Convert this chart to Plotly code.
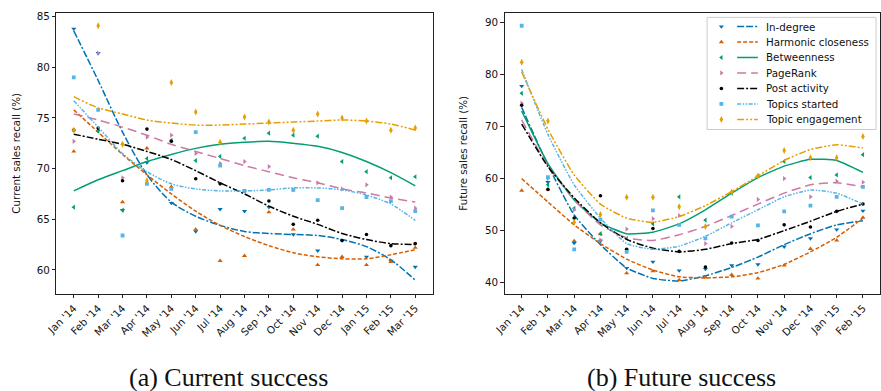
import plotly.graph_objects as go

# ---------------- data ----------------
months_a = ["Jan '14", "Feb '14", "Mar '14", "Apr '14", "May '14", "Jun '14", "Jul '14",
            "Aug '14", "Sep '14", "Oct '14", "Nov '14", "Dec '14", "Jan '15", "Feb '15", "Mar '15"]
months_b = months_a[:14]

series_names = ["In-degree", "Harmonic closeness", "Betweenness", "PageRank",
                "Post activity", "Topics started", "Topic engagement"]

# (a) Current success: observed recall per month
cur_indegree = [83.8, 81.4, 65.9, 70.6, 66.6, 63.8, 66.0, 65.8, 66.2, 63.5, 61.9, 62.9, 61.3, 60.9, 60.3]
cur_harmonic = [71.7, 73.8, 66.7, 72.0, 68.2, 64.0, 60.9, 61.4, 65.7, 64.0, 60.5, 61.3, 60.5, 60.8, 62.2]
cur_between = [66.2, 73.7, 65.9, 71.0, 72.8, 70.8, 71.2, 73.0, 73.5, 73.3, 73.2, 70.7, 69.7, 69.1, 69.2]
cur_pagerank = [72.7, 81.4, 69.1, 73.1, 73.3, 71.5, 70.5, 70.7, 70.2, 67.9, 68.6, 68.0, 68.4, 67.2, 66.1]
cur_post = [73.8, 74.0, 68.8, 73.9, 72.7, 69.0, 68.5, 67.8, 66.8, 64.5, 64.9, 62.9, 63.5, 62.4, 62.6]
cur_topics = [79.0, 75.8, 63.4, 68.5, 68.0, 73.6, 70.3, 67.8, 67.9, 67.9, 66.9, 66.1, 67.2, 66.8, 65.8]
cur_engage = [73.8, 84.1, 72.4, 68.8, 78.5, 75.6, 72.6, 75.1, 74.6, 73.8, 75.4, 75.0, 74.7, 73.8, 74.0]

# (a) trend curves read per month
cur_indegree_fit = [83.6, 78.7, 73.6, 69.4, 66.7, 65.3, 64.4, 63.8, 63.6, 63.5, 63.4, 63.0, 62.3, 61.0, 59.0]
cur_harmonic_fit = [75.8, 73.6, 71.4, 69.4, 67.5, 65.8, 64.4, 63.3, 62.4, 61.7, 61.3, 61.1, 61.1, 61.5, 62.0]
cur_between_fit = [67.8, 68.9, 69.8, 70.7, 71.4, 72.0, 72.4, 72.6, 72.7, 72.5, 72.2, 71.6, 70.7, 69.6, 68.3]
cur_pagerank_fit = [75.4, 74.8, 74.1, 73.3, 72.4, 71.7, 71.0, 70.3, 69.7, 69.1, 68.6, 68.0, 67.6, 67.1, 66.7]
cur_post_fit = [73.4, 72.9, 72.4, 71.7, 70.9, 69.8, 68.6, 67.5, 66.3, 65.3, 64.5, 63.6, 63.0, 62.6, 62.5]
cur_topics_fit = [76.7, 74.1, 71.5, 69.7, 68.5, 68.0, 67.8, 67.8, 67.9, 68.1, 68.1, 67.9, 67.4, 66.5, 64.9]
cur_engage_fit = [77.1, 76.0, 75.4, 74.8, 74.5, 74.3, 74.3, 74.4, 74.5, 74.6, 74.7, 74.8, 74.7, 74.4, 73.8]

# (b) Future success: observed recall per month
fut_indegree = [77.8, 59.3, 47.6, 48.0, 42.8, 44.0, 42.3, 42.6, 43.3, 43.5, 46.9, 48.5, 50.2, 53.8]
fut_harmonic = [57.7, 58.0, 48.0, 49.3, 41.8, 42.2, 40.5, 41.0, 41.5, 40.8, 43.3, 46.5, 48.1, 52.5]
fut_between = [76.4, 58.8, 54.3, 49.4, 48.5, 51.3, 56.5, 52.0, 57.2, 60.5, 63.3, 60.2, 60.7, 64.6]
fut_pagerank = [74.5, 60.0, 54.0, 48.2, 50.3, 52.3, 52.9, 47.5, 50.8, 56.0, 60.0, 56.5, 59.5, 59.3]
fut_post = [74.1, 57.9, 52.4, 56.7, 46.4, 50.4, 46.0, 43.0, 47.6, 48.1, 51.1, 50.7, 53.7, 55.1]
fut_topics = [89.4, 60.3, 46.4, 52.1, 45.9, 53.9, 51.1, 48.5, 52.7, 51.0, 53.7, 54.8, 56.5, 58.4]
fut_engage = [82.4, 71.1, 51.6, 53.1, 56.4, 56.4, 54.6, 50.8, 57.4, 60.5, 65.4, 64.0, 64.0, 68.1]

# (b) trend curves read per month
fut_indegree_fit = [73.7, 62.6, 53.0, 47.3, 42.8, 40.8, 40.3, 41.3, 42.9, 44.9, 47.3, 49.4, 51.1, 51.9]
fut_harmonic_fit = [60.0, 55.5, 51.1, 47.5, 44.5, 42.4, 41.1, 40.9, 41.1, 41.9, 43.5, 45.9, 48.7, 52.4]
fut_between_fit = [73.0, 62.9, 55.9, 51.5, 49.4, 49.7, 51.3, 54.0, 57.2, 60.2, 62.4, 63.7, 63.5, 61.2]
fut_pagerank_fit = [71.3, 62.4, 55.9, 51.1, 48.6, 48.1, 49.2, 50.8, 52.9, 55.1, 57.2, 58.8, 59.2, 58.4]
fut_post_fit = [70.5, 62.3, 56.3, 51.5, 48.3, 46.6, 45.9, 46.4, 47.5, 48.3, 50.0, 51.8, 53.7, 55.1]
fut_topics_fit = [81.0, 68.5, 58.8, 52.4, 47.5, 46.4, 47.0, 48.9, 51.5, 54.0, 56.5, 57.8, 57.2, 55.1]
fut_engage_fit = [80.5, 69.5, 60.7, 55.1, 52.4, 51.6, 52.7, 54.8, 57.5, 60.5, 63.5, 65.6, 66.5, 65.9]

yticks_a = [60, 65, 70, 75, 80, 85]
yticks_b = [40, 50, 60, 70, 80, 90]

# ---------------- styles ----------------
colors = ["#0072B2", "#D55E00", "#009E73", "#CC79A7", "#000000", "#56B4E9", "#E69F00"]
symbols = ["triangle-down", "triangle-up", "triangle-left", "triangle-right",
           "circle", "square", "diamond-tall"]
msizes = [4.5, 4.5, 4.5, 4.5, 3.6, 3.8, 5]
dashes = ["7px,2px,7px,2px,2px,2px", "4px,2px", "solid", "9px,5px",
          "7px,2px,2px,2px", "4px,1.5px,1.5px,1.5px,1.5px,1.5px", "7px,2px,2px,2px,2px,2px"]

cur_obs = [cur_indegree, cur_harmonic, cur_between, cur_pagerank, cur_post, cur_topics, cur_engage]
cur_fit = [cur_indegree_fit, cur_harmonic_fit, cur_between_fit, cur_pagerank_fit,
           cur_post_fit, cur_topics_fit, cur_engage_fit]
fut_obs = [fut_indegree, fut_harmonic, fut_between, fut_pagerank, fut_post, fut_topics, fut_engage]
fut_fit = [fut_indegree_fit, fut_harmonic_fit, fut_between_fit, fut_pagerank_fit,
           fut_post_fit, fut_topics_fit, fut_engage_fit]

W, H = 881, 391
FONT = "DejaVu Sans"
TXT = "#111111"

fig = go.Figure()

for i, name in enumerate(series_names):
    fig.add_trace(go.Scatter(x=months_a, y=cur_obs[i], mode="markers", xaxis="x", yaxis="y",
                             marker=dict(symbol=symbols[i], size=msizes[i], color=colors[i]),
                             showlegend=False, hoverinfo="skip"))
    fig.add_trace(go.Scatter(x=months_a, y=cur_fit[i], mode="lines", xaxis="x", yaxis="y",
                             line=dict(color=colors[i], width=1.5, dash=dashes[i], shape="spline", smoothing=0.8),
                             showlegend=False, name=name))
    fig.add_trace(go.Scatter(x=months_b, y=fut_obs[i], mode="markers", xaxis="x2", yaxis="y2",
                             marker=dict(symbol=symbols[i], size=msizes[i], color=colors[i]),
                             showlegend=False, hoverinfo="skip"))
    fig.add_trace(go.Scatter(x=months_b, y=fut_fit[i], mode="lines", xaxis="x2", yaxis="y2",
                             line=dict(color=colors[i], width=1.5, dash=dashes[i], shape="spline", smoothing=0.5),
                             showlegend=False, name=name))

# ---------------- hand-built legend (pixel overlay axis) ----------------
LX0, LX1, LY0, LY1 = 705.5, 877, 14.5, 127.5
fig.add_trace(go.Scatter(x=[LX0, LX1, LX1, LX0, LX0], y=[LY0, LY0, LY1, LY1, LY0],
                         mode="lines", fill="toself", fillcolor="rgba(255,255,255,0.85)",
                         line=dict(color="#cccccc", width=1), xaxis="x3", yaxis="y3",
                         showlegend=False, hoverinfo="skip"))
row0, rowstep = 23.7, 15.6
for i, name in enumerate(series_names):
    yy = row0 + rowstep * i
    fig.add_trace(go.Scatter(x=[736, 757], y=[yy, yy], mode="lines", xaxis="x3", yaxis="y3",
                             line=dict(color=colors[i], width=1.5, dash=dashes[i]),
                             showlegend=False, hoverinfo="skip"))
    fig.add_trace(go.Scatter(x=[720], y=[yy], mode="markers", xaxis="x3", yaxis="y3",
                             marker=dict(symbol=symbols[i], size=msizes[i], color=colors[i]),
                             showlegend=False, hoverinfo="skip"))
    fig.add_annotation(x=764, y=yy, xref="x3", yref="y3", text=name, showarrow=False,
                       xanchor="left", yanchor="middle", borderpad=0,
                       font=dict(family=FONT, size=10.3, color=TXT))

axis_common = dict(showline=True, mirror=True, linecolor="#222", linewidth=1,
                   ticks="outside", ticklen=3.5, tickwidth=0.8, tickcolor="#222",
                   showgrid=False, zeroline=False,
                   tickfont=dict(family=FONT, size=10.3, color=TXT))

fig.update_layout(
    width=W, height=H, margin=dict(l=0, r=0, t=0, b=0),
    paper_bgcolor="white", plot_bgcolor="rgba(0,0,0,0)",
    xaxis=dict(domain=[45 / W, 427 / W], type="category", range=[-0.715, 14.715],
               tickangle=-45, **axis_common),
    yaxis=dict(domain=[1 - 293 / H, 1 - 10 / H], range=[57.65, 85.37], tickvals=yticks_a,
               title=dict(text="Current sales recall (%)", font=dict(family=FONT, size=10.3, color=TXT),
                          standoff=14),
               **axis_common),
    xaxis2=dict(domain=[500 / W, 1.0], type="category", range=[-0.65, 13.65],
                tickangle=-45, anchor="y2", **axis_common),
    yaxis2=dict(domain=[1 - 293 / H, 1 - 10 / H], range=[37.85, 91.87], tickvals=yticks_b,
                anchor="x2",
                title=dict(text="Future sales recall (%)", font=dict(family=FONT, size=10.3, color=TXT),
                           standoff=15),
                **axis_common),
    xaxis3=dict(domain=[0, 1], range=[0, W], visible=False, anchor="y3", fixedrange=True),
    yaxis3=dict(domain=[0, 1], range=[H, 0], visible=False, anchor="x3", fixedrange=True),
    showlegend=False,
)

fig.add_annotation(x=220 / W, y=1 - 377 / H, xref="paper", yref="paper", text="(a) Current success",
                   xanchor="center", yanchor="middle", showarrow=False,
                   font=dict(family="Liberation Serif", size=26, color=TXT))
fig.add_annotation(x=680 / W, y=1 - 377 / H, xref="paper", yref="paper", text="(b) Future success",
                   xanchor="center", yanchor="middle", showarrow=False,
                   font=dict(family="Liberation Serif", size=26, color=TXT))

fig.write_html("out.html", config={"displayModeBar": False},
               post_script="document.body.style.margin='0';document.body.style.overflow='hidden';")
